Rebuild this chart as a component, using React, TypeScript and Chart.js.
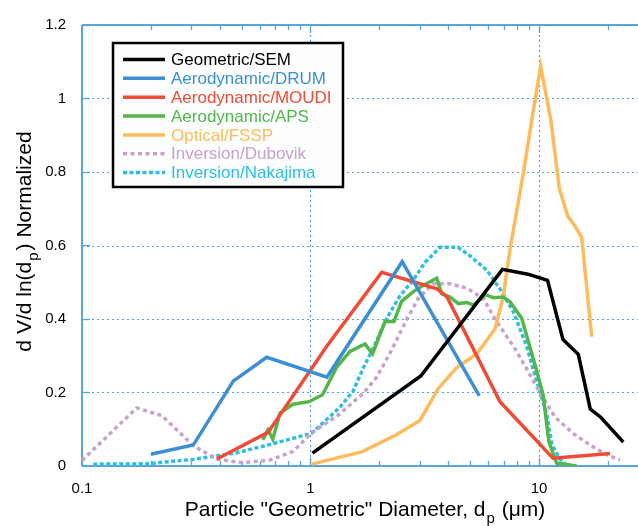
import React, { useEffect, useRef } from 'react';
import { Chart, registerables } from 'chart.js';

Chart.register(...registerables);

const FONT = '"Liberation Sans", Arial, Helvetica, sans-serif';

// Axis tick labels
const xTickValues = [0.1, 1, 10];
const xTickLabels = ['0.1', '1', '10'];
const yTickLabels = ['0', '0.2', '0.4', '0.6', '0.8', '1', '1.2'];
const yGridValues = [0.2, 0.4, 0.6, 0.8, 1.0];
const xGridValues = [1, 10];

// Series names
const seriesNames = [
  'Geometric/SEM',
  'Aerodynamic/DRUM',
  'Aerodynamic/MOUDI',
  'Aerodynamic/APS',
  'Optical/FSSP',
  'Inversion/Dubovik',
  'Inversion/Nakajima',
];

// Geometric/SEM
const semD = [1.02, 3.04, 6.92, 8.95, 10.9, 12.74, 14.86, 16.77, 18.68, 23.39];
const semV = [0.035, 0.245, 0.535, 0.522, 0.505, 0.344, 0.304, 0.155, 0.132, 0.065];

// Aerodynamic/DRUM
const drumD = [0.2, 0.307, 0.459, 0.643, 1.181, 2.52, 5.48];
const drumV = [0.032, 0.057, 0.231, 0.296, 0.242, 0.556, 0.191];

// Aerodynamic/MOUDI
const moudiD = [0.389, 0.652, 1.178, 2.05, 3.577, 3.957, 6.75, 11.52, 20.45];
const moudiV = [0.019, 0.0915, 0.326, 0.527, 0.482, 0.46, 0.175, 0.021, 0.034];

// Aerodynamic/APS
const apsD = [0.618, 0.651, 0.684, 0.736, 0.838, 0.985, 1.129, 1.302, 1.489, 1.732, 1.868, 2.118, 2.319, 2.506, 2.81, 3.108, 3.567, 3.751, 4.078, 4.436, 4.827, 5.158, 5.861, 6.31, 6.98, 7.466, 8.4, 9.6, 10.41, 11.06, 11.95, 14.62];
const apsV = [0.071, 0.098, 0.073, 0.144, 0.168, 0.175, 0.194, 0.269, 0.312, 0.332, 0.305, 0.393, 0.393, 0.448, 0.474, 0.491, 0.511, 0.469, 0.46, 0.442, 0.445, 0.438, 0.466, 0.458, 0.46, 0.447, 0.402, 0.276, 0.196, 0.065, 0.008, 0.0];

// Optical/FSSP
const fsspD = [1.012, 1.675, 2.343, 3.014, 3.625, 4.364, 5.338, 6.418, 6.96, 7.466, 8.537, 9.443, 10.17, 11.25, 12.27, 13.36, 14.37, 15.38, 17.01];
const fsspV = [0.005, 0.0385, 0.083, 0.124, 0.211, 0.268, 0.305, 0.373, 0.457, 0.589, 0.796, 0.967, 1.088, 0.944, 0.756, 0.68, 0.653, 0.622, 0.352];

// Inversion/Dubovik
const dubD = [0.1, 0.1735, 0.224, 0.307, 0.389, 0.497, 0.665, 0.841, 1.005, 1.346, 1.715, 1.949, 2.228, 2.644, 2.964, 3.447, 4.078, 4.827, 5.704, 6.418, 7.99, 10.1, 11.75, 14.09, 16.72, 19.84, 22.62];
const dubV = [0.015, 0.158, 0.137, 0.055, 0.019, 0.009, 0.016, 0.04, 0.089, 0.142, 0.2, 0.242, 0.307, 0.4, 0.456, 0.496, 0.496, 0.484, 0.456, 0.4, 0.312, 0.2, 0.133, 0.089, 0.057, 0.03, 0.016];

// Inversion/Nakajima
const nakD = [0.112, 0.192, 0.307, 0.475, 0.688, 1.012, 1.346, 1.539, 1.702, 1.883, 2.156, 2.465, 2.818, 3.17, 3.688, 4.421, 4.989, 5.904, 6.75, 7.72, 8.836, 9.772, 10.81, 11.4, 12.36, 13.27];
const nakV = [0.005, 0.006, 0.018, 0.036, 0.061, 0.089, 0.16, 0.2045, 0.267, 0.321, 0.402, 0.463, 0.506, 0.554, 0.595, 0.595, 0.572, 0.533, 0.482, 0.42, 0.326, 0.231, 0.142, 0.057, 0.019, 0.0];

const seriesD = [semD, drumD, moudiD, apsD, fsspD, dubD, nakD];
const seriesV = [semV, drumV, moudiV, apsV, fsspV, dubV, nakV];
const seriesColors = ['#000000', '#3d8fd1', '#f04b36', '#53b64b', '#fdbb5c', '#c8a2cd', '#2dbfe2'];
const seriesDash: number[][] = [[], [], [], [], [], [4, 3.5], [4, 2.5]];

const GRID = '#4ea2dd';
const AXIS = '#5aa6dc';

function line(ctx: CanvasRenderingContext2D, x1: number, y1: number, x2: number, y2: number) {
  ctx.beginPath();
  ctx.moveTo(x1, y1);
  ctx.lineTo(x2, y2);
  ctx.stroke();
}

const decorPlugin = {
  id: 'decor',
  beforeDatasetsDraw(chart: any) {
    const { ctx, chartArea: a, scales } = chart;
    const xs = scales.x;
    const ys = scales.y;
    ctx.save();
    // dotted grid
    ctx.strokeStyle = GRID;
    ctx.lineWidth = 1.2;
    ctx.setLineDash([2, 3]);
    for (const v of yGridValues) {
      const y = Math.round(ys.getPixelForValue(v)) + 0.5;
      line(ctx, a.left, y, a.right, y);
    }
    for (const v of xGridValues) {
      const x = Math.round(xs.getPixelForValue(v)) + 0.5;
      line(ctx, x, a.top, x, a.bottom);
    }
    ctx.setLineDash([]);
    // frame
    ctx.strokeStyle = AXIS;
    ctx.lineWidth = 2;
    line(ctx, a.left, a.top, a.left, a.bottom);
    line(ctx, a.left, a.bottom, a.right, a.bottom);
    line(ctx, a.left, a.top, a.right, a.top);
    line(ctx, a.right, a.top, a.right, a.bottom);
    // x ticks (inward)
    ctx.lineWidth = 1.3;
    for (const dec of [0.1, 1, 10]) {
      for (let k = 1; k <= 9; k++) {
        const v = dec * k;
        if (v > xs.max + 1e-9) continue;
        const x = Math.round(xs.getPixelForValue(v)) + 0.5;
        const len = k === 1 ? 8 : 5;
        line(ctx, x, a.bottom, x, a.bottom - len);
        line(ctx, x, a.top, x, a.top + len);
      }
    }
    // y ticks
    for (let i = 0; i < yTickLabels.length; i++) {
      const y = Math.round(ys.getPixelForValue(i * 0.2)) + 0.5;
      line(ctx, a.left, y, a.left + 8, y);
    }
    ctx.restore();
  },
  afterDraw(chart: any) {
    const { ctx, chartArea: a } = chart;
    ctx.save();
    // legend
    const bx = 113, by = 43, bw = 230, bh = 144;
    ctx.fillStyle = '#fcfdfd';
    ctx.fillRect(bx, by, bw, bh);
    ctx.strokeStyle = '#000';
    ctx.lineWidth = 2.5;
    ctx.strokeRect(bx, by, bw, bh);
    ctx.font = '17px ' + FONT;
    ctx.textBaseline = 'middle';
    ctx.textAlign = 'left';
    chart.data.datasets.forEach((ds: any, i: number) => {
      const y = 59.5 + i * 18.85;
      ctx.strokeStyle = ds.borderColor;
      ctx.lineWidth = 3.5;
      ctx.setLineDash(ds.borderDash || []);
      line(ctx, 123, y, 165, y);
      ctx.setLineDash([]);
      ctx.fillStyle = ds.borderColor;
      ctx.fillText(ds.label, 171, y + 1);
    });
    // x title (centred on the axes)
    ctx.fillStyle = '#000';
    ctx.textBaseline = 'alphabetic';
    const mainFont = '21px ' + FONT;
    const subFont = '15px ' + FONT;
    const xa = 'Particle "Geometric" Diameter, d';
    const xsub = 'p';
    const xb = ' (\u03bcm)';
    ctx.font = mainFont;
    const wa = ctx.measureText(xa).width;
    const wb = ctx.measureText(xb).width;
    ctx.font = subFont;
    const ws = ctx.measureText(xsub).width;
    const cx = (a.left + a.right) / 2;
    const x0 = cx - (wa + ws + 2 + wb) / 2;
    const yb = 516;
    ctx.font = mainFont;
    ctx.fillText(xa, x0, yb);
    ctx.font = subFont;
    ctx.fillText(xsub, x0 + wa + 1, yb + 7);
    ctx.font = mainFont;
    ctx.fillText(xb, x0 + wa + ws + 2, yb);
    // y title
    ctx.translate(31, (a.top + a.bottom) / 2 - 4);
    ctx.rotate(-Math.PI / 2);
    const ya = 'd V/d ln(d';
    const ysub = 'p';
    const yc = ') Normalized';
    ctx.font = mainFont;
    const wya = ctx.measureText(ya).width;
    const wyc = ctx.measureText(yc).width;
    ctx.font = subFont;
    const wys = ctx.measureText(ysub).width;
    const y0 = -(wya + wys + 3 + wyc) / 2;
    ctx.font = mainFont;
    ctx.fillText(ya, y0, 0);
    ctx.font = subFont;
    ctx.fillText(ysub, y0 + wya + 1, 7);
    ctx.font = mainFont;
    ctx.fillText(yc, y0 + wya + wys + 3, 0);
    ctx.restore();
  },
};

export default function App() {
  const ref = useRef<HTMLCanvasElement | null>(null);
  useEffect(() => {
    document.body.style.margin = '0';
    const canvas = ref.current;
    if (!canvas) return;
    const datasets = seriesNames.map((name, i) => ({
      label: name,
      data: seriesD[i].map((d, j) => ({ x: d, y: seriesV[i][j] })),
      borderColor: seriesColors[i],
      backgroundColor: seriesColors[i],
      borderWidth: 3.5,
      borderDash: seriesDash[i],
      borderCapStyle: 'butt' as const,
      borderJoinStyle: 'miter' as const,
      pointRadius: 0,
      tension: 0,
      fill: false,
    }));
    const chart = new Chart(canvas, {
      type: 'line',
      data: { datasets },
      options: {
        responsive: false,
        animation: false,
        devicePixelRatio: 1,
        layout: { padding: { top: 20, right: 12, left: 0, bottom: 0 } },
        plugins: { legend: { display: false }, tooltip: { enabled: false } },
        scales: {
          x: {
            type: 'logarithmic',
            min: 0.1,
            max: 30,
            border: { display: false },
            grid: { display: false, drawTicks: false },
            afterFit: (s: any) => { s.height = 60; },
            afterBuildTicks: (s: any) => {
              s.ticks = xTickValues.map((v) => ({ value: v }));
            },
            ticks: {
              autoSkip: false,
              maxRotation: 0,
              padding: 14,
              color: '#000',
              font: { family: FONT, size: 15 },
              callback: (v: any) => {
                const idx = xTickValues.findIndex((t) => Math.abs(t - Number(v)) < 1e-9);
                return idx >= 0 ? xTickLabels[idx] : '';
              },
            },
          },
          y: {
            type: 'linear',
            min: 0,
            max: 1.2,
            border: { display: false },
            grid: { display: false, drawTicks: false },
            afterFit: (s: any) => { s.width = 82; },
            ticks: {
              stepSize: 0.2,
              padding: 16,
              color: '#000',
              font: { family: FONT, size: 15 },
              callback: (_v: any, i: number) => yTickLabels[i],
            },
          },
        },
      },
      plugins: [decorPlugin],
    });
    return () => chart.destroy();
  }, []);
  return (
    <div style={{ width: 638, height: 526, overflow: 'hidden', position: 'relative' }}>
      <canvas ref={ref} width={660} height={526} style={{ display: 'block' }} />
    </div>
  );
}
